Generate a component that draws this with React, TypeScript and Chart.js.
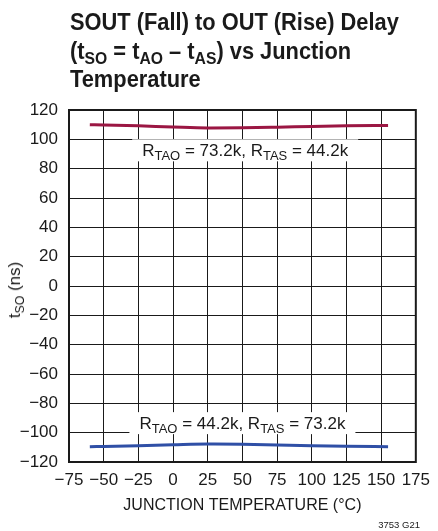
import React, { useEffect, useRef } from 'react';
import { Chart, registerables } from 'chart.js';

Chart.register(...registerables);

const FONT = '"Liberation Sans", Arial, Helvetica, sans-serif';

// ---- data ----
const temperatures = [-60, -50, -25, 0, 25, 50, 75, 100, 125, 155];
const upperDelay = [110, 109.8, 109.2, 108.4, 107.8, 107.9, 108.3, 108.8, 109.2, 109.5];
const lowerDelay = [-109.6, -109.4, -108.9, -108.3, -107.8, -107.9, -108.4, -108.9, -109.3, -109.6];

const X_MIN = -75;
const X_MAX = 175;
const X_STEP = 25;
const Y_MIN = -120;
const Y_MAX = 120;
const Y_STEP = 20;

type Seg = { t: string; sub?: boolean };
const upperLabel: Seg[] = [
  { t: 'R' }, { t: 'TAO', sub: true }, { t: ' = 73.2k, R' }, { t: 'TAS', sub: true }, { t: ' = 44.2k' },
];
const lowerLabel: Seg[] = [
  { t: 'R' }, { t: 'TAO', sub: true }, { t: ' = 44.2k, R' }, { t: 'TAS', sub: true }, { t: ' = 73.2k' },
];
const labelAnchors = [
  { x: 52, y: 92.5, segs: upperLabel },
  { x: 50, y: -93.5, segs: lowerLabel },
];

const UPPER_COLOR = '#9b1743';
const LOWER_COLOR = '#2f4fa6';
const INK = '#1a1a1a';

const fmt = (v: number | string) => String(v).replace('-', '\u2212');

const labelPlugin = {
  id: 'richLabels',
  beforeDatasetsDraw(chart: any) {
    const { ctx, scales } = chart;
    const mainFont = `17px ${FONT}`;
    const subFont = `13px ${FONT}`;
    ctx.save();
    labelAnchors.forEach((a) => {
      const cx = scales.x.getPixelForValue(a.x);
      const cy = scales.y.getPixelForValue(a.y);
      let w = 0;
      a.segs.forEach((s) => {
        ctx.font = s.sub ? subFont : mainFont;
        w += ctx.measureText(s.t).width;
      });
      const padX = 10;
      const h = 22;
      ctx.fillStyle = '#ffffff';
      ctx.fillRect(cx - w / 2 - padX, cy - h / 2, w + padX * 2, h);
      let px = cx - w / 2;
      const base = cy + 6;
      ctx.fillStyle = INK;
      ctx.textBaseline = 'alphabetic';
      ctx.textAlign = 'left';
      a.segs.forEach((s) => {
        ctx.font = s.sub ? subFont : mainFont;
        ctx.fillText(s.t, px, s.sub ? base + 4 : base);
        px += ctx.measureText(s.t).width;
      });
    });
    ctx.restore();
  },
};

const framePlugin = {
  id: 'frame',
  afterDatasetsDraw(chart: any) {
    const { ctx, chartArea } = chart;
    ctx.save();
    ctx.strokeStyle = INK;
    ctx.lineWidth = 2;
    ctx.strokeRect(chartArea.left, chartArea.top, chartArea.right - chartArea.left, chartArea.bottom - chartArea.top);
    ctx.restore();
  },
};

export default function App() {
  const canvasRef = useRef<HTMLCanvasElement | null>(null);

  useEffect(() => {
    if (!canvasRef.current) return;
    const chart = new Chart(canvasRef.current, {
      type: 'line',
      data: {
        datasets: [
          {
            data: temperatures.map((t, i) => ({ x: t, y: upperDelay[i] })),
            borderColor: UPPER_COLOR,
            borderWidth: 3,
            pointRadius: 0,
            cubicInterpolationMode: 'monotone',
            fill: false,
          },
          {
            data: temperatures.map((t, i) => ({ x: t, y: lowerDelay[i] })),
            borderColor: LOWER_COLOR,
            borderWidth: 3,
            pointRadius: 0,
            cubicInterpolationMode: 'monotone',
            fill: false,
          },
        ],
      },
      options: {
        animation: false,
        responsive: false,
        maintainAspectRatio: false,
        layout: { padding: { top: 110, right: 17, left: 0, bottom: 0 } },
        plugins: { legend: { display: false }, tooltip: { enabled: false }, title: { display: false } },
        scales: {
          x: {
            type: 'linear',
            min: X_MIN,
            max: X_MAX,
            ticks: {
              stepSize: X_STEP,
              color: INK,
              font: { family: FONT, size: 17 },
              padding: 8,
              maxRotation: 0,
              autoSkip: false,
              callback: (v: any) => fmt(v),
            },
            grid: { color: INK, lineWidth: 1, drawTicks: false },
            border: { color: INK, width: 2 },
            title: {
              display: true,
              text: 'JUNCTION TEMPERATURE (°C)',
              color: INK,
              font: { family: FONT, size: 16 },
              padding: { top: 0, bottom: 16 },
            },
            afterFit: (s: any) => { s.height = 69; },
          },
          y: {
            type: 'linear',
            min: Y_MIN,
            max: Y_MAX,
            ticks: {
              stepSize: Y_STEP,
              color: INK,
              font: { family: FONT, size: 17 },
              padding: 11,
              autoSkip: false,
              callback: (v: any) => fmt(v),
            },
            grid: { color: INK, lineWidth: 1, drawTicks: false },
            border: { color: INK, width: 2 },
            afterFit: (s: any) => { s.width = 69; },
          },
        },
      },
      plugins: [labelPlugin, framePlugin],
    } as any);
    return () => chart.destroy();
  }, []);

  const subStyle: React.CSSProperties = { fontSize: '0.72em', position: 'relative', top: '0.3em', lineHeight: 0 };

  return (
    <div style={{ position: 'absolute', left: 0, top: 0, width: 438, height: 531, background: '#fff', fontFamily: FONT, color: INK }}>
      <canvas ref={canvasRef} width={438} height={531} style={{ position: 'absolute', left: 0, top: 0, width: 438, height: 531 }} />
      <div style={{ position: 'absolute', left: 70, top: 8, fontSize: 24, lineHeight: '28.5px', fontWeight: 'bold', whiteSpace: 'nowrap', transform: 'scaleX(0.91)', transformOrigin: 'left top' }}>
        <div>SOUT (Fall) to OUT (Rise) Delay</div>
        <div>
          (t<span style={subStyle}>SO</span> = t<span style={subStyle}>AO</span> – t<span style={subStyle}>AS</span>) vs Junction
        </div>
        <div>Temperature</div>
      </div>
      <div style={{ position: 'absolute', left: 15, top: 290, transform: 'translate(-50%, -50%) rotate(-90deg)', fontSize: 17, whiteSpace: 'nowrap', lineHeight: '20px' }}>
        t<span style={subStyle}>SO</span> (ns)
      </div>
      <div style={{ position: 'absolute', right: 18, top: 518, fontSize: 9.5, whiteSpace: 'nowrap', lineHeight: '14px' }}>3753 G21</div>
    </div>
  );
}
